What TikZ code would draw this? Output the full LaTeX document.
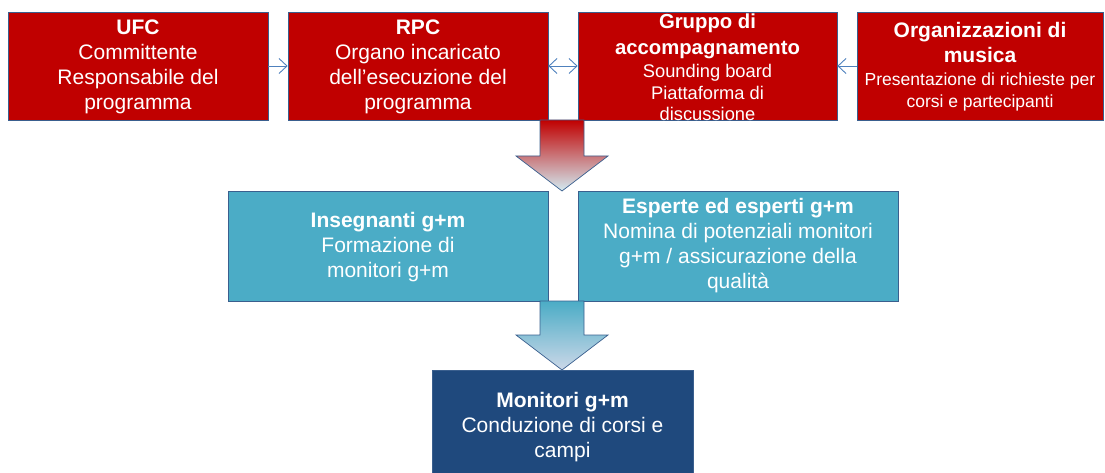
\documentclass[tikz,border=0pt]{standalone}
\usepackage{fontspec}
\setmainfont{Liberation Sans}
\usetikzlibrary{arrows.meta}
\definecolor{boxred}{HTML}{C00000}
\definecolor{boxteal}{HTML}{4BACC6}
\definecolor{boxdark}{HTML}{1F497D}
\definecolor{bordercol}{HTML}{3A5F8E}
\definecolor{linecol}{HTML}{4F81BD}
\definecolor{lightteal}{HTML}{D3EBF2}
\definecolor{midblue}{HTML}{2C5A8E}
\definecolor{lightblue}{HTML}{CCD8E8}
\begin{document}
\begin{tikzpicture}[x=1pt,y=-1pt,
  boxbase/.style={draw=bordercol,line width=0.7pt,inner sep=0pt},
  redbox/.style={boxbase,fill=boxred,minimum height=108pt},
  tealbox/.style={boxbase,fill=boxteal,minimum width=320pt,minimum height=110pt},
  darkbox/.style={boxbase,fill=boxdark,minimum width=261pt,minimum height=112pt},
  txt/.style={text=white,align=center,inner sep=0pt,font=\fontsize{21}{25}\selectfont},
  conn/.style={draw=linecol,line width=0.9pt,-{Straight Barb[length=8pt,width=15pt]}},
  dconn/.style={draw=linecol,line width=0.9pt,{Straight Barb[length=8pt,width=15pt]}-{Straight Barb[length=8pt,width=15pt]}},
  blockarrow/.style={draw=bordercol,line width=0.7pt}]
\useasboundingbox (0,0) rectangle (1105,473);

% top row
\node[redbox,minimum width=260pt] (ufc) at (138,66) {};
\node[redbox,minimum width=260pt] (rpc) at (418,66) {};
\node[redbox,minimum width=259pt] (grp) at (707.5,66) {};
\node[redbox,minimum width=246pt] (org) at (980,66) {};

\node[txt] (ufct) at (138,67) {\textbf{UFC}\\Committente\\Responsabile del\\programma};
\node[txt] (rpct) at (418,67) {\textbf{RPC}\\Organo incaricato\\dell’esecuzione del\\programma};
\node[txt,font=\fontsize{18.3}{21.5}\selectfont] (grpt) at (707.5,67.5)
  {{\fontsize{20.3}{24}\selectfont\bfseries Gruppo di}\\[4pt]{\fontsize{20.3}{24}\selectfont\bfseries accompagnamento}\\[2pt]Sounding board\\Piattaforma di\\discussione};
\node[txt,font=\fontsize{17.5}{22.5}\selectfont] (orgt) at (980,67)
  {{\fontsize{21}{25}\selectfont\bfseries Organizzazioni di}\\[2.5pt]{\fontsize{21}{25}\selectfont\bfseries musica}\\Presentazione di richieste per\\corsi e partecipanti};

\draw[conn] (ufc.east) -- (rpc.west);
\draw[dconn] (rpc.east) -- (grp.west);
\draw[conn] (org.west) -- (grp.east);

% first block arrow
\shadedraw[blockarrow,top color=boxred,middle color=boxteal,bottom color=lightteal]
  (540,120) -- (584,120) -- (584,156) -- (608,156) -- (562,191) -- (516,156) -- (540,156) -- cycle;

% middle row
\node[tealbox] (ins) at (388,246) {};
\node[tealbox] (esp) at (738,246) {};
\node[txt] (inst) at (388,247) {\textbf{Insegnanti g+m}\\Formazione di\\monitori g+m};
\node[txt] (espt) at (738,245.5) {\textbf{Esperte ed esperti g+m}\\Nomina di potenziali monitori\\g+m / assicurazione della\\qualità};

% second block arrow
\shadedraw[blockarrow,top color=boxteal,middle color=midblue,bottom color=lightblue]
  (540,301) -- (584,301) -- (584,335) -- (608,335) -- (562,370) -- (516,335) -- (540,335) -- cycle;

% bottom
\node[darkbox] (mon) at (562.5,426) {};
\node[txt] (mont) at (562.5,427) {\textbf{Monitori g+m}\\Conduzione di corsi e\\campi};
\end{tikzpicture}
\end{document}
